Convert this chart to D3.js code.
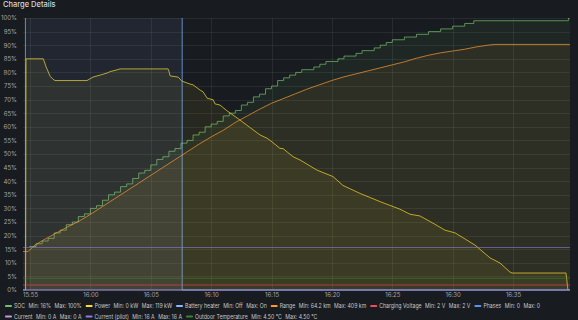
<!DOCTYPE html>
<html>
<head>
<meta charset="utf-8">
<script src="https://cdn.jsdelivr.net/npm/d3@7"></script>
<style>
  html, body { margin: 0; padding: 0; background: #181b1f; }
  svg { display: block; font-family: Inter, "Noto Sans", sans-serif; }
</style>
</head>
<body>
<svg id="chart" width="578" height="320"></svg>
<script>
// ---- data (time, value) ----
const socData = [
  ["15:54:57",16],["15:55:00",16],["15:55:30",17],["15:56:00",18],["15:56:30",19],["15:57:00",21],
  ["15:57:30",22],["15:58:00",24],["15:58:30",25],["15:59:00",27],["15:59:30",28],["16:00:00",30],
  ["16:00:30",31],["16:01:00",33],["16:01:30",35],["16:02:00",36],["16:02:30",38],["16:03:00",39],
  ["16:03:30",41],["16:04:00",43],["16:04:30",44],["16:05:00",46],["16:05:30",48],["16:06:00",49],
  ["16:06:30",51],["16:07:00",52],["16:07:30",54],["16:08:00",55],["16:08:30",57],["16:09:00",58],
  ["16:09:30",60],["16:10:00",61],["16:10:30",62],["16:11:00",64],["16:11:30",65],["16:12:00",66],
  ["16:12:30",68],["16:13:00",69],["16:13:30",71],["16:14:00",72],["16:14:30",74],["16:15:00",75],
  ["16:15:30",77],["16:16:00",78],["16:16:30",79],["16:17:00",80],["16:17:30",81],["16:18:30",82],
  ["16:19:00",83],["16:19:30",84],["16:20:30",85],["16:21:00",86],["16:22:00",87],["16:22:30",88],
  ["16:23:30",89],["16:24:00",90],["16:24:30",91],["16:25:00",92],["16:26:00",93],["16:27:00",94],
  ["16:28:00",95],["16:29:00",96],["16:30:00",97],["16:31:00",98],["16:31:45",99],["16:39:25",99],
  ["16:39:35",100],["16:39:43",100]
];
const powerData = [
  ["15:54:38",0],["15:54:40",119],["15:56:06",119],["15:56:20",114.8],["15:56:40",110],["15:56:54",108.5],
  ["15:57:04",107.8],["15:59:43",107.8],["16:00:13",109.6],["16:00:48",110.6],["16:01:23",111.7],
  ["16:01:38",112.4],["16:02:12",113.3],["16:02:27",113.8],["16:06:26",113.8],["16:06:30",112.7],
  ["16:06:36",110.2],["16:07:16",109.6],["16:07:35",107.5],["16:08:15",106],["16:08:30",105.6],
  ["16:09:05",102.9],["16:09:20",102],["16:09:40",98.7],["16:10:10",97.9],["16:10:19",95.8],
  ["16:10:44",95.2],["16:11:18",92.3],["16:12:23",87.5],["16:13:12",83.7],["16:14:03",79.8],
  ["16:14:38",78.1],["16:14:53",77],["16:15:42",72.9],["16:15:57",72.8],["16:16:47",68.6],
  ["16:17:22",66.9],["16:18:46",61.7],["16:20:05",58.4],["16:20:55",53.8],["16:22:20",49.7],
  ["16:23:59",45.5],["16:25:38",41.6],["16:26:28",39],["16:27:18",38.1],["16:28:22",34.4],
  ["16:29:22",30.8],["16:30:12",29.4],["16:31:01",26.3],["16:31:51",23.1],["16:33:06",16.5],
  ["16:33:55",13.9],["16:34:45",9.2],["16:34:55",8.75],["16:39:23",8.75],["16:39:33",0]
];
const heaterData = [["15:54:25",0],["15:54:37",1],["16:07:36",0],["16:39:43",0]];
const rangeData = [
  ["15:54:25",64.2],["15:54:50",64.2],["15:55:00",67],["15:55:25",75],["15:56:00",82],["15:57:00",93],
  ["15:58:00",104],["15:59:00",114],["16:00:00",126],["16:01:00",139],["16:02:00",152],["16:03:00",165],
  ["16:04:00",178],["16:05:00",191],["16:06:00",204],["16:07:00",217],["16:08:00",230],["16:09:00",243],
  ["16:10:00",255],["16:11:00",266],["16:12:00",279],["16:13:00",290],["16:14:00",301],["16:15:00",311],
  ["16:16:00",319],["16:17:00",327],["16:18:00",335],["16:19:00",342],["16:20:00",349],["16:21:00",355],
  ["16:22:00",360],["16:23:00",365],["16:24:00",370],["16:25:00",375],["16:26:00",380],["16:27:00",386],
  ["16:28:00",391],["16:29:00",395],["16:30:00",398],["16:31:00",401],["16:32:00",405],["16:33:00",408],
  ["16:33:30",409],["16:39:43",409]
];
const chargingVoltageData = [["15:54:25",2],["16:39:43",2]];
const phasesData = [["15:54:25",0],["16:39:43",0]];
const currentData = [["15:54:25",0],["16:39:43",0]];
const pilotCurrentData = [["15:54:25",16],["16:39:43",16]];
const outdoorTempData = [["15:54:25",4.5],["16:39:43",4.5]];

const timeRange = ["15:54:25", "16:39:43"];
const timeTicks = ["15:55","16:00","16:05","16:10","16:15","16:20","16:25","16:30","16:35"];
const pctTicks = [0,5,10,15,20,25,30,35,40,45,50,55,60,65,70,75,80,85,90,95,100];

// ---- layout ----
const W = 578, H = 320;
const plotLeft = 23, plotRight = 570, plotTop = 18, plotBottom = 290;
const parseT = d3.timeParse("%H:%M:%S");
const parseHM = d3.timeParse("%H:%M");

const svg = d3.select("#chart");
svg.append("rect").attr("width", W).attr("height", H).attr("fill", "#181b1f");

svg.append("clipPath").attr("id", "plotClip").append("rect")
  .attr("x", plotLeft).attr("y", plotTop)
  .attr("width", plotRight - plotLeft).attr("height", plotBottom - plotTop + 1);

const x = d3.scaleTime().domain(timeRange.map(parseT)).range([plotLeft, plotRight]);
const yPct = d3.scaleLinear().domain([0, 100]).range([plotBottom, plotTop]);
// hidden per-unit axes (grafana auto-scales each unit separately)
const yPower = d3.scaleLinear().domain([0, 140]).range([plotBottom, plotTop]);
const yRange = d3.scaleLinear().domain([0, 453]).range([plotBottom, plotTop]);
const yHeater = d3.scaleLinear().domain([0, 0.95]).range([plotBottom, plotTop]);
const yCount = d3.scaleLinear().domain([0, 1]).range([plotBottom, plotTop]);
const yAmp = d3.scaleLinear().domain([0, 102.4]).range([plotBottom, plotTop]);
const yVolt = d3.scaleLinear().domain([0, 109]).range([plotBottom, plotTop]);
const yTemp = d3.scaleLinear().domain([0, 104.6]).range([plotBottom, plotTop]);

// title
svg.append("text").attr("x", 3).attr("y", 7)
  .attr("font-size", 7.5).attr("font-weight", 500).attr("fill", "#d8d9da")
  .text("Charge Details");

// grid
const grid = svg.append("g").attr("stroke", "rgba(240,250,255,0.07)").attr("stroke-width", 1);
grid.selectAll(".gy").data(pctTicks).enter().append("line")
  .attr("x1", plotLeft).attr("x2", plotRight)
  .attr("y1", d => Math.round(yPct(d)) + 0.5).attr("y2", d => Math.round(yPct(d)) + 0.5);
grid.selectAll(".gx").data(timeTicks).enter().append("line")
  .attr("y1", plotTop).attr("y2", plotBottom)
  .attr("x1", d => Math.round(x(parseHM(d))) + 0.5).attr("x2", d => Math.round(x(parseHM(d))) + 0.5);

// y axis labels
const yAxis = d3.axisLeft(yPct).tickValues(pctTicks).tickSize(0).tickPadding(0).tickFormat(d => d + "%");
svg.append("g").attr("transform", "translate(17,0)").call(yAxis)
  .call(g => g.select(".domain").remove())
  .selectAll("text").attr("font-size", 6).attr("fill", "#a4a5aa").attr("font-family", "Inter, sans-serif");

// x axis labels
const xAxis = d3.axisBottom(x).tickValues(timeTicks.map(parseHM)).tickSize(0).tickPadding(0)
  .tickFormat(d3.timeFormat("%H:%M"));
svg.append("g").attr("transform", "translate(0," + (plotBottom + 3) + ")").call(xAxis)
  .call(g => g.select(".domain").remove())
  .selectAll("text").attr("font-size", 6).attr("fill", "#a4a5aa").attr("font-family", "Inter, sans-serif");

// series
const series = [
  { name: "SOC", data: socData, color: "#73BF69", y: yPct, curve: d3.curveStepAfter, fill: 0.08, fmt: v => v + "%" },
  { name: "Power", data: powerData, color: "#FADE2A", y: yPower, curve: d3.curveLinear, fill: 0.065, fmt: v => v + " kW" },
  { name: "Battery heater", data: heaterData, color: "#8AB8FF", y: yHeater, curve: d3.curveStepAfter, fill: 0.08, fmt: v => v ? "On" : "Off" },
  { name: "Range", data: rangeData, color: "#FF9830", y: yRange, curve: d3.curveLinear, fill: 0.07, fmt: v => (+v.toFixed(1)) + " km" },
  { name: "Charging Voltage", data: chargingVoltageData, color: "#F2495C", y: yVolt, curve: d3.curveLinear, fill: 0, fmt: v => v + " V" },
  { name: "Phases", data: phasesData, color: "#5794F2", y: yCount, curve: d3.curveLinear, fill: 0, fmt: v => "" + v },
  { name: "Current", data: currentData, color: "#CA95E5", y: yAmp, curve: d3.curveLinear, fill: 0, fmt: v => v + " A" },
  { name: "Current (pilot)", data: pilotCurrentData, color: "#8F7BD9", y: yAmp, curve: d3.curveLinear, fill: 0, fmt: v => v + " A" },
  { name: "Outdoor Temperature", data: outdoorTempData, color: "#37872D", y: yTemp, curve: d3.curveLinear, fill: 0, fmt: v => v.toFixed(2) + " °C" }
];

const plot = svg.append("g").attr("clip-path", "url(#plotClip)");
series.forEach(s => {
  const pts = s.data.map(d => [parseT(d[0]), d[1]]);
  if (s.fill) {
    const area = d3.area().curve(s.curve)
      .x(d => x(d[0])).y0(plotBottom).y1(d => s.y(d[1]));
    plot.append("path").attr("d", area(pts))
      .attr("fill", s.color).attr("fill-opacity", s.fill);
  }
  const line = d3.line().curve(s.curve).x(d => x(d[0])).y(d => s.y(d[1]));
  plot.append("path").attr("d", line(pts))
    .attr("fill", "none").attr("stroke", s.color).attr("stroke-width", 1)
    .attr("stroke-opacity", s.fill ? 0.7 : 0.6);
});

// legend (flow layout, text squeezed horizontally like the reference)
const sx = 0.8;
const legend = svg.append("g").attr("transform", "scale(" + sx + ",1)")
  .attr("font-size", 6.5).attr("fill", "#c7c8cc");
let lx = 5 / sx, ly = 308;
series.forEach(s => {
  const vals = s.data.map(d => d[1]);
  const parts = [s.name, "Min: " + s.fmt(d3.min(vals)), "Max: " + s.fmt(d3.max(vals))];
  const g = legend.append("g");
  g.append("rect").attr("x", 0).attr("y", -3).attr("width", 7 / sx).attr("height", 2)
    .attr("rx", 1).attr("fill", s.color);
  let tx = 9 / sx;
  parts.forEach((p, i) => {
    const t = g.append("text").attr("x", tx).attr("y", 0).text(p);
    tx += t.node().getComputedTextLength() + (i < parts.length - 1 ? 3.5 / sx : 0);
  });
  const w = tx;
  if (lx + w > 576 / sx) { lx = 5 / sx; ly += 10.5; }
  g.attr("transform", "translate(" + lx + "," + ly + ")");
  lx += w + 4 / sx;
});
</script>
</body>
</html>
